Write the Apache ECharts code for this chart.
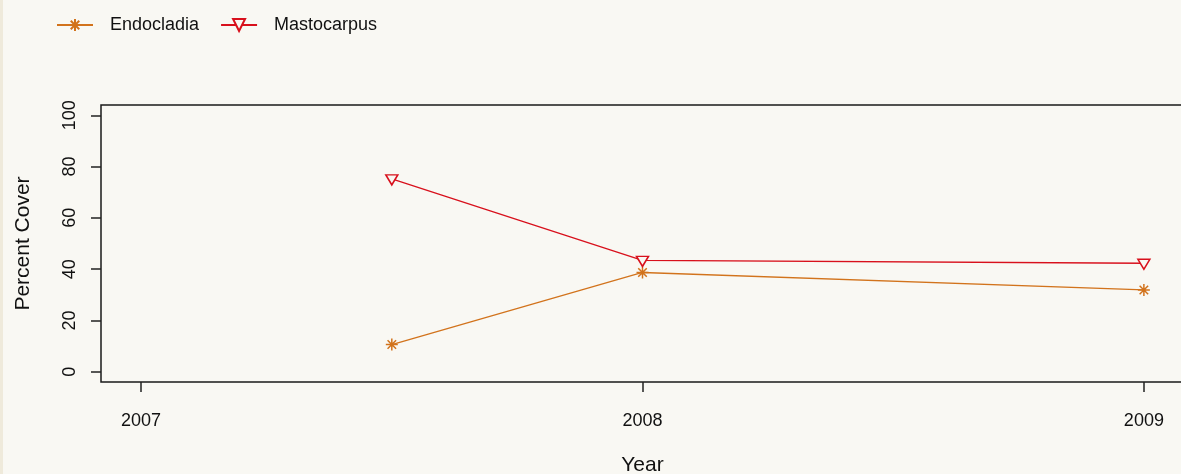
<!DOCTYPE html>
<html>
<head>
<meta charset="utf-8">
<script src="https://cdn.jsdelivr.net/npm/echarts@6/dist/echarts.min.js"></script>
<style>
  html, body { margin: 0; padding: 0; background: #F9F8F3; }
  #coverChart { width: 1181px; height: 474px; }
  #edge { position: absolute; left: 0; top: 0; width: 3px; height: 474px; background: #EFEADB; }
</style>
</head>
<body>
<div id="coverChart"></div>
<div id="edge"></div>
<script>
// sampling dates (decimal years) and percent cover per species
var years = [2007.5, 2008, 2009];
var endocladia = [10.6, 38.7, 31.9];
var mastocarpus = [75.2, 43.4, 42.3];
var xTicks = [2007, 2008, 2009];
var yTicks = [0, 20, 40, 60, 80, 100];

var orange = '#D2731C';
var red = '#D8101C';
var bg = '#F9F8F3';

var starPath = 'path://M0,-1L0,1M-1,0L1,0M-0.71,-0.71L0.71,0.71M-0.71,0.71L0.71,-0.71';
var downTri = 'path://M-1,0L1,0L0,1.6Z';

var coverChart = echarts.init(document.getElementById('coverChart'));

function pairs(xs, ys) {
  var out = [];
  for (var i = 0; i < xs.length; i++) out.push([xs[i], ys[i]]);
  return out;
}

coverChart.setOption({
  backgroundColor: bg,
  animation: false,
  textStyle: { fontFamily: 'Liberation Sans, Arial, sans-serif' },
  legend: {
    left: 51,
    top: 11,
    itemWidth: 36,
    itemHeight: 15,
    itemGap: 21,
    textStyle: { fontSize: 18, color: '#111', padding: [0, 0, 0, 12] },
    data: ['Endocladia', 'Mastocarpus']
  },
  grid: {
    left: 101, top: 105, width: 1083, height: 277,
    outerBoundsMode: 'none',
    containLabel: false,
    show: true, borderColor: '#1a1a1a', borderWidth: 1.5, backgroundColor: 'transparent'
  },
  xAxis: {
    type: 'value',
    position: 'bottom',
    min: 2006.92,
    max: 2009.08,
    name: 'Year',
    nameLocation: 'middle',
    nameGap: 73,
    nameTextStyle: { fontSize: 21, color: '#111' },
    axisLine: { show: false, onZero: false },
    splitLine: { show: false },
    axisTick: { show: true, length: 10, customValues: xTicks, lineStyle: { color: '#222', width: 1.5 } },
    axisLabel: {
      customValues: xTicks, fontSize: 18, color: '#111', margin: 30,
      formatter: function (v) { return String(v); }
    }
  },
  yAxis: {
    type: 'value',
    min: -4,
    max: 104,
    name: 'Percent Cover',
    nameLocation: 'middle',
    nameGap: 67,
    nameTextStyle: { fontSize: 21, color: '#111' },
    axisLine: { show: false, onZero: false },
    splitLine: { show: false },
    axisTick: { show: true, length: 10, customValues: yTicks, lineStyle: { color: '#222', width: 1.5 } },
    axisLabel: {
      customValues: yTicks, fontSize: 18, color: '#111', margin: 22, rotate: 90,
      formatter: function (v) { return String(v); }
    }
  },
  series: [
    {
      name: 'Endocladia',
      type: 'line',
      data: pairs(years, endocladia),
      symbol: starPath,
      symbolSize: 12,
      showAllSymbol: true,
      lineStyle: { color: orange, width: 1.3 },
      itemStyle: { color: orange, borderColor: orange, borderWidth: 1.5 },
      emphasis: { disabled: true }
    },
    {
      name: 'Mastocarpus',
      type: 'line',
      data: pairs(years, mastocarpus),
      symbol: downTri,
      symbolSize: [12, 10],
      symbolOffset: [0, 1],
      showAllSymbol: true,
      lineStyle: { color: red, width: 1.3 },
      itemStyle: { color: bg, borderColor: red, borderWidth: 1.5 },
      emphasis: { disabled: true }
    }
  ]
});

window.addEventListener('resize', function () {
  coverChart.resize();
});
</script>
</body>
</html>
